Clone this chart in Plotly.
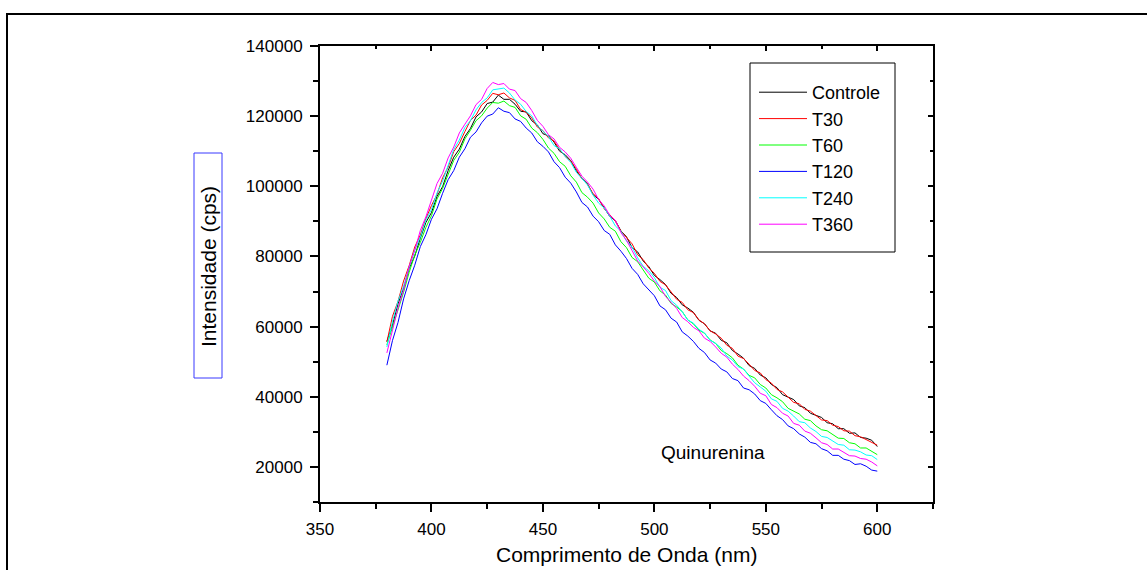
import plotly.graph_objects as go

wavelength = [380.0, 382.5, 385.0, 387.5, 390.0, 392.5, 395.0, 397.5, 400.0, 402.5,
              405.0, 407.5, 410.0, 412.5, 415.0, 417.5, 420.0, 422.5, 425.0, 427.5,
              430.0, 432.5, 435.0, 437.5, 440.0, 442.5, 445.0, 447.5, 450.0, 452.5,
              455.0, 457.5, 460.0, 462.5, 465.0, 467.5, 470.0, 472.5, 475.0, 477.5,
              480.0, 482.5, 485.0, 487.5, 490.0, 492.5, 495.0, 497.5, 500.0, 502.5,
              505.0, 507.5, 510.0, 512.5, 515.0, 517.5, 520.0, 522.5, 525.0, 527.5,
              530.0, 532.5, 535.0, 537.5, 540.0, 542.5, 545.0, 547.5, 550.0, 552.5,
              555.0, 557.5, 560.0, 562.5, 565.0, 567.5, 570.0, 572.5, 575.0, 577.5,
              580.0, 582.5, 585.0, 587.5, 590.0, 592.5, 595.0, 597.5, 600.0]

controle = [55800, 60500, 66500, 70900, 76600, 80100, 85200, 89700, 92500, 97100,
            99900, 104500, 108300, 110600, 114200, 116500, 119800, 121200, 123600, 124000,
            126000, 124800, 124800, 123400, 121400, 121200, 118700, 117500, 115000, 114400,
            112600, 110000, 109000, 107300, 104400, 102300, 100700, 97600, 96300, 94000,
            91400, 90200, 87300, 85600, 82500, 81300, 78700, 77100, 74600, 73400,
            72000, 69500, 68300, 66200, 65300, 64100, 61800, 60800, 58800, 58100,
            56100, 55400, 53200, 52200, 51000, 48900, 48100, 46200, 45400, 43500,
            42600, 40600, 40000, 39200, 37400, 36900, 35300, 34700, 34100, 32600,
            32300, 30900, 30900, 29600, 29700, 28400, 28200, 27600, 25800]

t30 = [55600, 62900, 67200, 73000, 77400, 82700, 86100, 90800, 94500, 97700,
       102400, 105500, 109900, 112200, 115600, 118800, 120300, 123200, 124500, 126500,
       126100, 126600, 125200, 124500, 121900, 121100, 119500, 116900, 115900, 113800,
       112900, 110500, 108500, 107200, 104900, 102100, 100600, 97900, 96500, 93600,
       91900, 90100, 87200, 85500, 83600, 80500, 79100, 76700, 75200, 72900,
       71900, 69900, 67800, 66900, 64800, 64000, 61900, 60800, 58800, 57900,
       56700, 54700, 53800, 51600, 50900, 49300, 47500, 46800, 44900, 43900,
       42100, 41400, 39900, 38400, 38000, 36400, 35900, 34700, 33400, 33200,
       31900, 31500, 30300, 30200, 28900, 28600, 27800, 26800, 26200]

t60 = [54800, 59800, 65400, 69800, 75500, 80400, 84000, 88300, 91600, 96400,
       99400, 103600, 107400, 109700, 113500, 116000, 118700, 120100, 122300, 123900,
       123700, 124300, 123000, 122500, 120100, 119100, 116600, 115300, 113400, 110900,
       109400, 107000, 105700, 103000, 101200, 98200, 96900, 95200, 92400, 90700,
       88300, 87200, 84200, 82500, 79700, 78500, 76200, 73800, 72700, 70200,
       69000, 66600, 65600, 64300, 61900, 60800, 59000, 58100, 56200, 55200,
       53200, 52300, 51100, 49000, 47900, 46100, 45400, 43500, 42500, 40600,
       39700, 38600, 36700, 36000, 35100, 33600, 33200, 31700, 30600, 30300,
       29300, 28200, 28100, 26900, 26600, 25400, 25400, 24500, 23500]

t120 = [49000, 56000, 61200, 67900, 73100, 77500, 82800, 86200, 90600, 93600,
        98000, 101900, 104500, 108300, 110700, 114000, 115500, 118100, 120000, 120600,
        122400, 121400, 121000, 119200, 118500, 116600, 115200, 112700, 111400, 109800,
        107000, 105300, 102600, 100900, 98400, 95400, 94100, 91500, 89900, 87400,
        86300, 83300, 81500, 79400, 76600, 74900, 72200, 70500, 68800, 65900,
        64800, 62400, 61300, 58500, 57300, 55800, 53800, 52600, 50500, 49600,
        47900, 47100, 45200, 44600, 42500, 42000, 40800, 38900, 38100, 36300,
        34600, 33500, 31700, 30900, 29400, 28500, 27000, 26600, 25200, 24600,
        23300, 23300, 22200, 21800, 20700, 20900, 20200, 19100, 18800]

t240 = [54200, 61400, 67300, 71500, 76900, 81800, 85500, 90400, 93400, 98100,
        101500, 106300, 110500, 113200, 116800, 118700, 121800, 123900, 125200, 127500,
        127700, 128000, 126600, 124600, 123400, 121300, 120100, 117300, 115700, 114200,
        111600, 110700, 108500, 106800, 104000, 102300, 100400, 97500, 95200, 93800,
        91500, 88700, 87200, 84400, 82700, 79600, 77200, 75900, 74000, 71200,
        70300, 67400, 66100, 64200, 61900, 61000, 59200, 58200, 56100, 55200,
        53900, 51600, 50500, 48600, 47900, 45900, 44000, 42800, 41600, 39400,
        38700, 36700, 35900, 34500, 32900, 32600, 31100, 30100, 28700, 28400,
        27400, 26400, 26200, 24900, 24800, 24300, 23400, 23200, 22100]

t360 = [52500, 58700, 65300, 70500, 77100, 81700, 87400, 91300, 96200, 100800,
        103700, 108100, 111200, 115200, 117700, 120100, 123300, 124800, 127900, 129600,
        129000, 129300, 127700, 127300, 125000, 123900, 121600, 118800, 117100, 114700,
        113500, 111100, 109800, 108000, 105400, 102900, 101200, 99200, 96200, 94400,
        91700, 90300, 86800, 84600, 81700, 78700, 77000, 75200, 73000, 71400,
        68600, 66900, 65200, 62600, 61400, 59800, 58800, 56700, 55800, 54200,
        52400, 51300, 49300, 47800, 45900, 44600, 43000, 41000, 40300, 37800,
        36900, 35300, 34500, 32400, 31900, 30200, 29600, 28300, 26900, 26400,
        25100, 25100, 24200, 23200, 23100, 22400, 22200, 21400, 20300]

series_names = ["Controle", "T30", "T60", "T120", "T240", "T360"]
series_values = [controle, t30, t60, t120, t240, t360]
series_colors = ["#000000", "#ff0000", "#00ff00", "#0000ff", "#00ffff", "#ff00ff"]

FONT = "Arial, Liberation Sans, sans-serif"

# plot-area pixel geometry
L, R, T, B = 320, 933, 46, 502
W, H = R - L, B - T


def px(xp):
    return (xp - L) / W


def py(yp):
    return (B - yp) / H


fig = go.Figure()
for name, vals, col in zip(series_names, series_values, series_colors):
    fig.add_trace(go.Scatter(x=wavelength, y=vals, mode="lines", name=name,
                             line=dict(color=col, width=1)))

# empty trace so the top/right mirror axes with inner ticks get drawn
fig.add_trace(go.Scatter(x=[None], y=[None], xaxis="x2", yaxis="y2",
                         showlegend=False, hoverinfo="skip"))

axis_common = dict(
    showgrid=False, zeroline=False, showline=True, linecolor="black", linewidth=2,
    ticks="outside", ticklen=8, tickwidth=1.5, tickcolor="black",
    tickfont=dict(family=FONT, size=17, color="black"),
)

fig.update_layout(
    xaxis=dict(range=[350, 625], dtick=50, tick0=350,
               minor=dict(dtick=25, ticks="outside", ticklen=5, tickcolor="black", tickwidth=1.5),
               ticklabelstandoff=3, **axis_common),
    yaxis=dict(range=[10000, 140000], dtick=20000, tick0=0, tickformat="d",
               minor=dict(dtick=10000, ticks="outside", ticklen=5, tickcolor="black", tickwidth=1.5),
               ticklabelstandoff=4, **axis_common),
    xaxis2=dict(range=[350, 625], dtick=50, tick0=350, overlaying="x", side="top",
                anchor="y", showticklabels=False, showgrid=False, zeroline=False,
                showline=True, linecolor="black", linewidth=2,
                ticks="inside", ticklen=5, tickwidth=1.5, tickcolor="black",
                minor=dict(dtick=25, ticks="inside", ticklen=3, tickcolor="black", tickwidth=1.5)),
    yaxis2=dict(range=[10000, 140000], dtick=20000, tick0=0, overlaying="y", side="right",
                anchor="x", showticklabels=False, showgrid=False, zeroline=False,
                showline=True, linecolor="black", linewidth=2,
                ticks="inside", ticklen=5, tickwidth=1.5, tickcolor="black",
                minor=dict(dtick=10000, ticks="inside", ticklen=3, tickcolor="black", tickwidth=1.5)),
)

fig.update_layout(
    width=1147, height=570,
    margin=dict(l=L, r=1147 - R, t=T, b=570 - B, pad=0),
    paper_bgcolor="white", plot_bgcolor="white",
    font=dict(family=FONT, color="black"),
    showlegend=True,
    legend=dict(x=px(754), y=py(74), xanchor="left", yanchor="top",
                borderwidth=0, bgcolor="rgba(0,0,0,0)",
                font=dict(family=FONT, size=18, color="black"),
                itemwidth=48, tracegroupgap=0),
    shapes=[
        # outer frame
        dict(type="rect", xref="paper", yref="paper",
             x0=px(7), y0=-0.4, x1=1.6, y1=py(14),
             line=dict(color="black", width=2), fillcolor="rgba(0,0,0,0)"),
        # box around y title
        dict(type="rect", xref="paper", yref="paper",
             x0=px(194), y0=py(378), x1=px(222), y1=py(153),
             line=dict(color="#3838ff", width=1), fillcolor="rgba(0,0,0,0)"),
        # legend frame
        dict(type="rect", xref="paper", yref="paper",
             x0=px(750), y0=py(252), x1=px(895), y1=py(63),
             line=dict(color="black", width=1), fillcolor="white", layer="below"),
    ],
    annotations=[
        dict(text="Comprimento de Onda (nm)", xref="paper", yref="paper",
             x=px(626), y=py(554), xanchor="center", yanchor="middle", showarrow=False,
             font=dict(family=FONT, size=21, color="black")),
        dict(text="Intensidade (cps)", xref="paper", yref="paper",
             x=px(208), y=py(267), xanchor="center", yanchor="middle", showarrow=False,
             textangle=-90, font=dict(family=FONT, size=21, color="black")),
        dict(text="Quinurenina", xref="x", yref="y", x=526.5, y=24200,
             xanchor="center", yanchor="middle", showarrow=False,
             font=dict(family=FONT, size=19, color="black")),
    ],
)

fig.write_html("out.html", config={"displayModeBar": False},
               post_script="document.body.style.margin='0';document.body.style.overflow='hidden';")
